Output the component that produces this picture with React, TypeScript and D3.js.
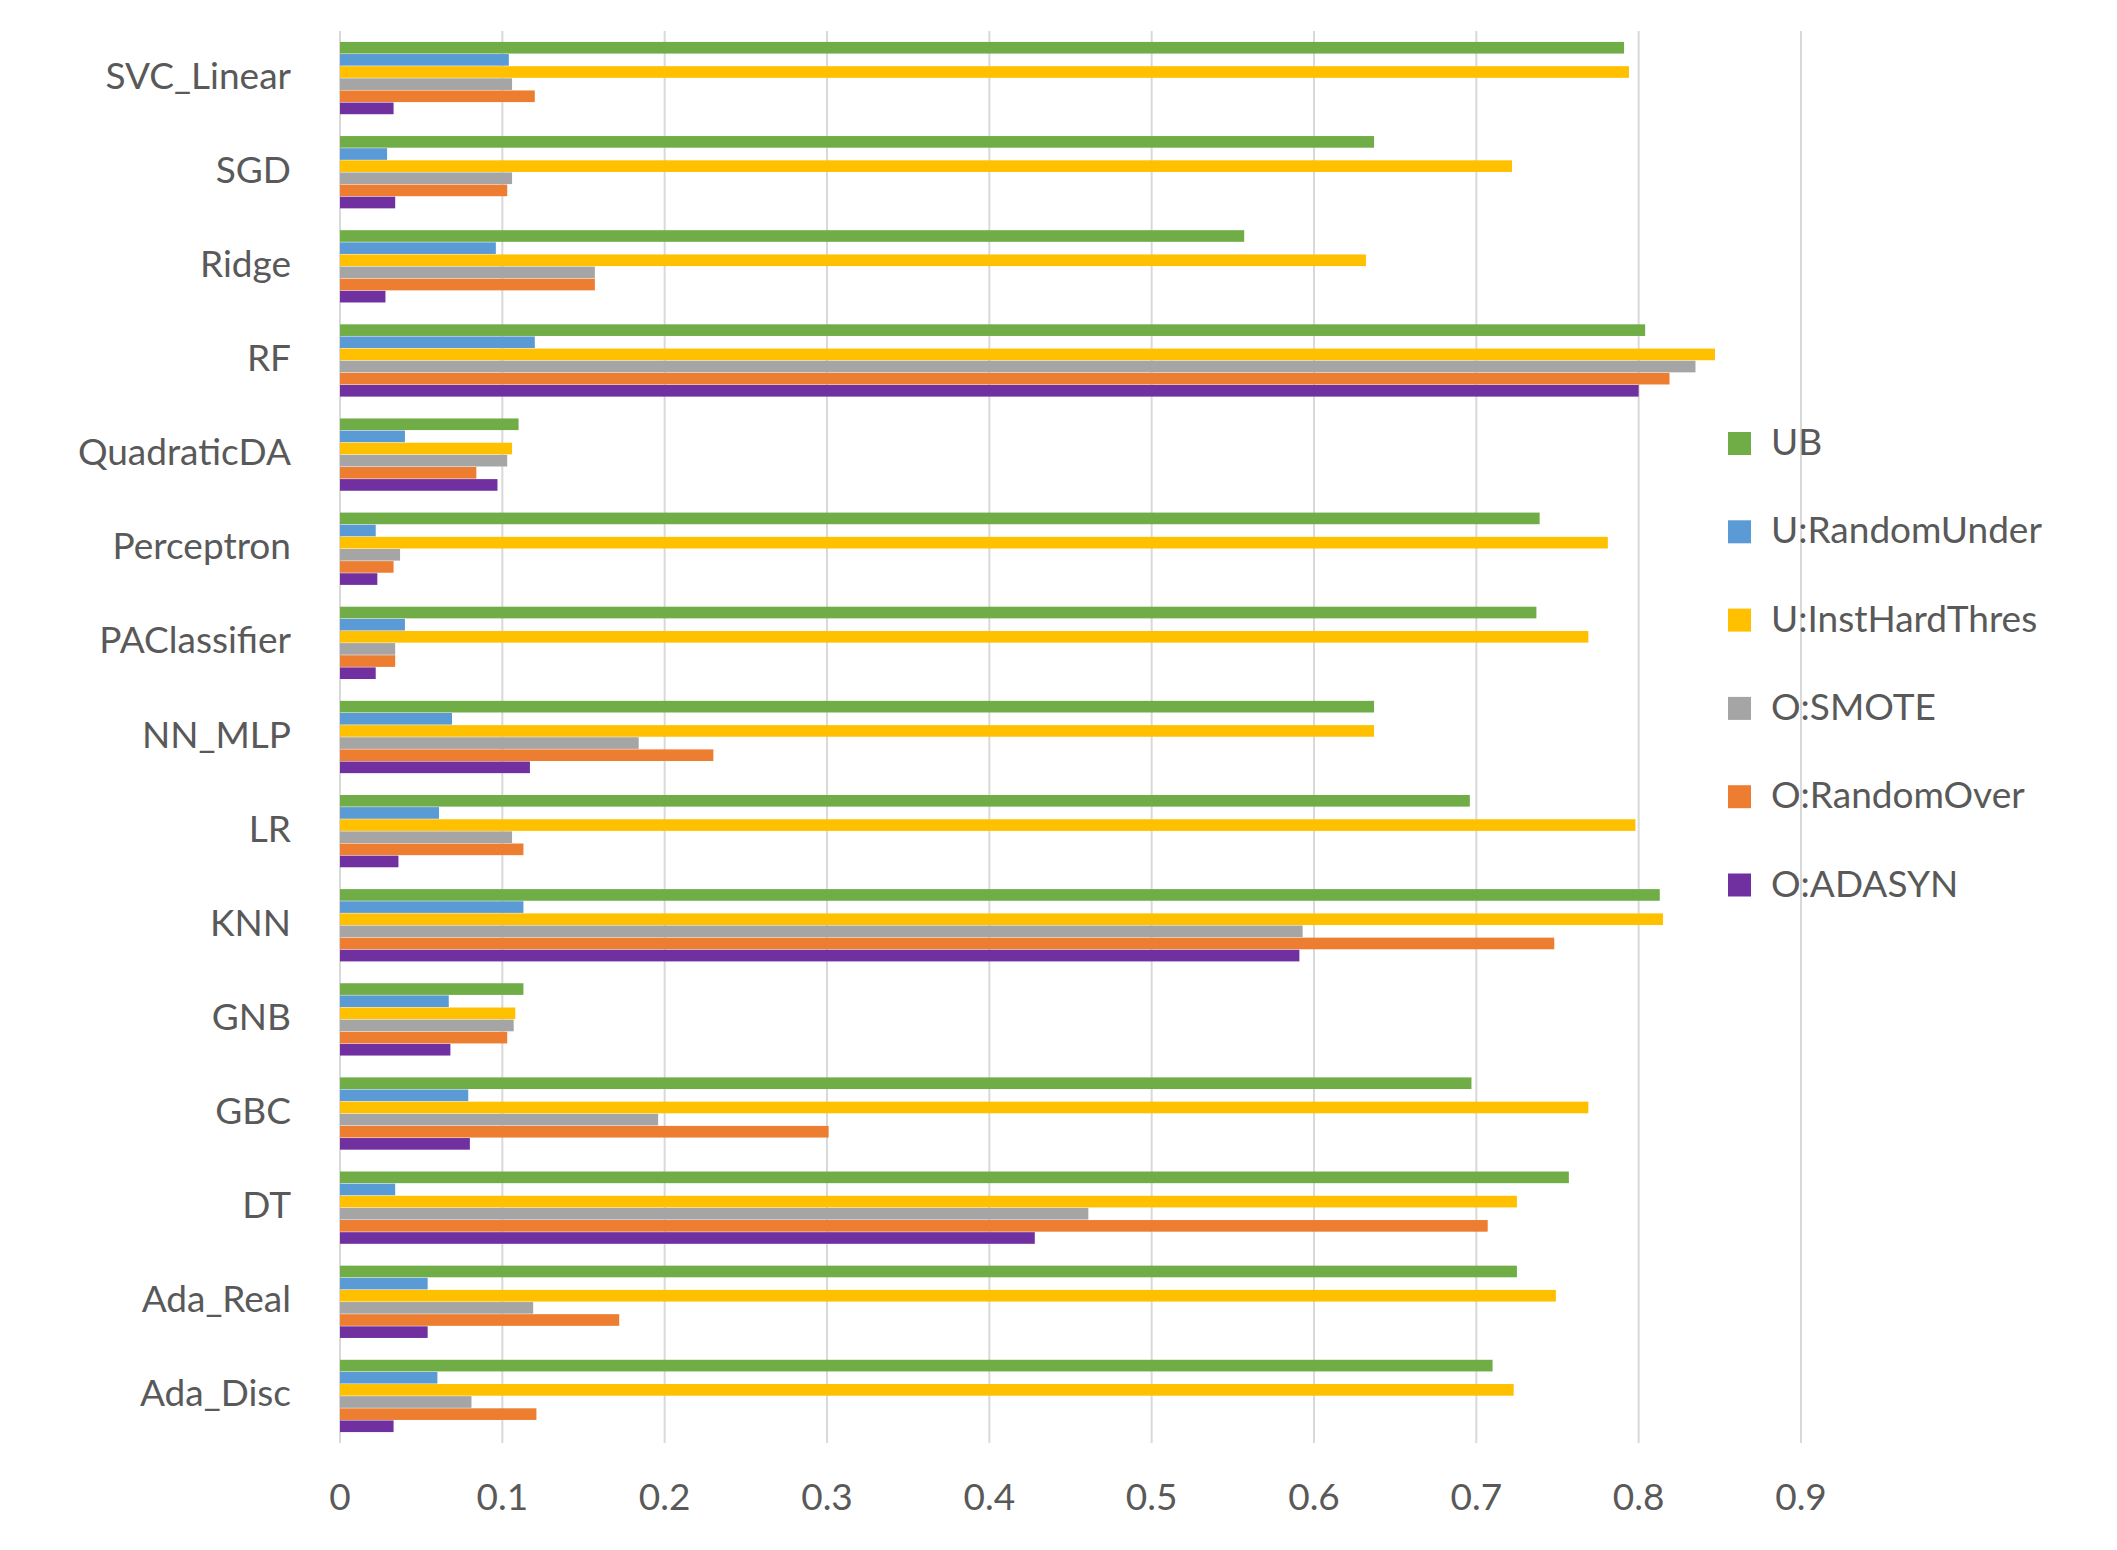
import { useMemo } from 'react'
import { scaleBand, scaleLinear } from 'd3'

// 15 classifiers x 6 resampling strategies, horizontal grouped bars (Excel-style look).

const categories = [
  'SVC_Linear', 'SGD', 'Ridge', 'RF', 'QuadraticDA', 'Perceptron', 'PAClassifier',
  'NN_MLP', 'LR', 'KNN', 'GNB', 'GBC', 'DT', 'Ada_Real', 'Ada_Disc',
]

const seriesNames = ['UB', 'U:RandomUnder', 'U:InstHardThres', 'O:SMOTE', 'O:RandomOver', 'O:ADASYN']
const seriesColors = ['#70AD47', '#5B9BD5', '#FFC000', '#A5A5A5', '#ED7D31', '#7030A0']

// one array per series, in category order
const ub = [0.791, 0.637, 0.557, 0.804, 0.110, 0.739, 0.737, 0.637, 0.696, 0.813, 0.113, 0.697, 0.757, 0.725, 0.710]
const randomUnder = [0.104, 0.029, 0.096, 0.120, 0.040, 0.022, 0.040, 0.069, 0.061, 0.113, 0.067, 0.079, 0.034, 0.054, 0.060]
const instHardThres = [0.794, 0.722, 0.632, 0.847, 0.106, 0.781, 0.769, 0.637, 0.798, 0.815, 0.108, 0.769, 0.725, 0.749, 0.723]
const smote = [0.106, 0.106, 0.157, 0.835, 0.103, 0.037, 0.034, 0.184, 0.106, 0.593, 0.107, 0.196, 0.461, 0.119, 0.081]
const randomOver = [0.120, 0.103, 0.157, 0.819, 0.084, 0.033, 0.034, 0.230, 0.113, 0.748, 0.103, 0.301, 0.707, 0.172, 0.121]
const adasyn = [0.033, 0.034, 0.028, 0.800, 0.097, 0.023, 0.022, 0.117, 0.036, 0.591, 0.068, 0.080, 0.428, 0.054, 0.033]

const seriesValues = [ub, randomUnder, instHardThres, smote, randomOver, adasyn]
const xTicks = [0, 0.1, 0.2, 0.3, 0.4, 0.5, 0.6, 0.7, 0.8, 0.9]

const W = 2117
const H = 1550
const PLOT = { left: 340, right: 1801, top: 31, bottom: 1443 }
const FONT = 'Lato, "Open Sans", sans-serif'
const TEXT = '#595959'
const GRID = '#D9D9D9'

export default function App() {
  const x = useMemo(() => scaleLinear().domain([0, 0.9]).range([PLOT.left, PLOT.right]), [])
  const y = useMemo(() => scaleBand().domain(categories).range([PLOT.top, PLOT.bottom]).padding(0), [])
  const inner = useMemo(
    () => scaleBand().domain(seriesNames).range([0, y.bandwidth()]).paddingInner(0.04).paddingOuter(0.9),
    [y],
  )

  return (
    <svg width={W} height={H} viewBox={`0 0 ${W} ${H}`} style={{ position: 'absolute', left: 0, top: 0, background: '#fff' }}>
      {/* vertical gridlines */}
      {xTicks.map((t) => (
        <line key={t} x1={x(t)} x2={x(t)} y1={PLOT.top} y2={PLOT.bottom} stroke={GRID} strokeWidth={2} />
      ))}

      {/* bars */}
      {categories.map((c, ci) => (
        <g key={c} transform={`translate(0, ${y(c)})`}>
          {seriesNames.map((s, si) => (
            <rect
              key={s}
              x={x(0)}
              y={inner(s)}
              width={Math.max(0, x(seriesValues[si][ci]) - x(0))}
              height={inner.bandwidth()}
              fill={seriesColors[si]}
            />
          ))}
        </g>
      ))}

      {/* category labels */}
      {categories.map((c) => (
        <text
          key={c}
          x={291}
          y={(y(c) ?? 0) + y.bandwidth() / 2 - 4}
          textAnchor="end"
          dominantBaseline="central"
          fontFamily={FONT}
          fontSize={37}
          fill={TEXT}
        >
          {c}
        </text>
      ))}

      {/* x tick labels */}
      {xTicks.map((t) => (
        <text
          key={t}
          x={x(t)}
          y={1495}
          textAnchor="middle"
          dominantBaseline="central"
          fontFamily={FONT}
          fontSize={37}
          fill={TEXT}
        >
          {t === 0 ? '0' : t.toFixed(1)}
        </text>
      ))}

      {/* legend */}
      {seriesNames.map((s, i) => {
        const cy = 443.5 + i * 88.3
        return (
          <g key={s}>
            <rect x={1728} y={cy - 11.5} width={23} height={23} fill={seriesColors[i]} />
            <text x={1771} y={cy - 3} dominantBaseline="central" fontFamily={FONT} fontSize={37} fill={TEXT}>
              {s}
            </text>
          </g>
        )
      })}
    </svg>
  )
}
